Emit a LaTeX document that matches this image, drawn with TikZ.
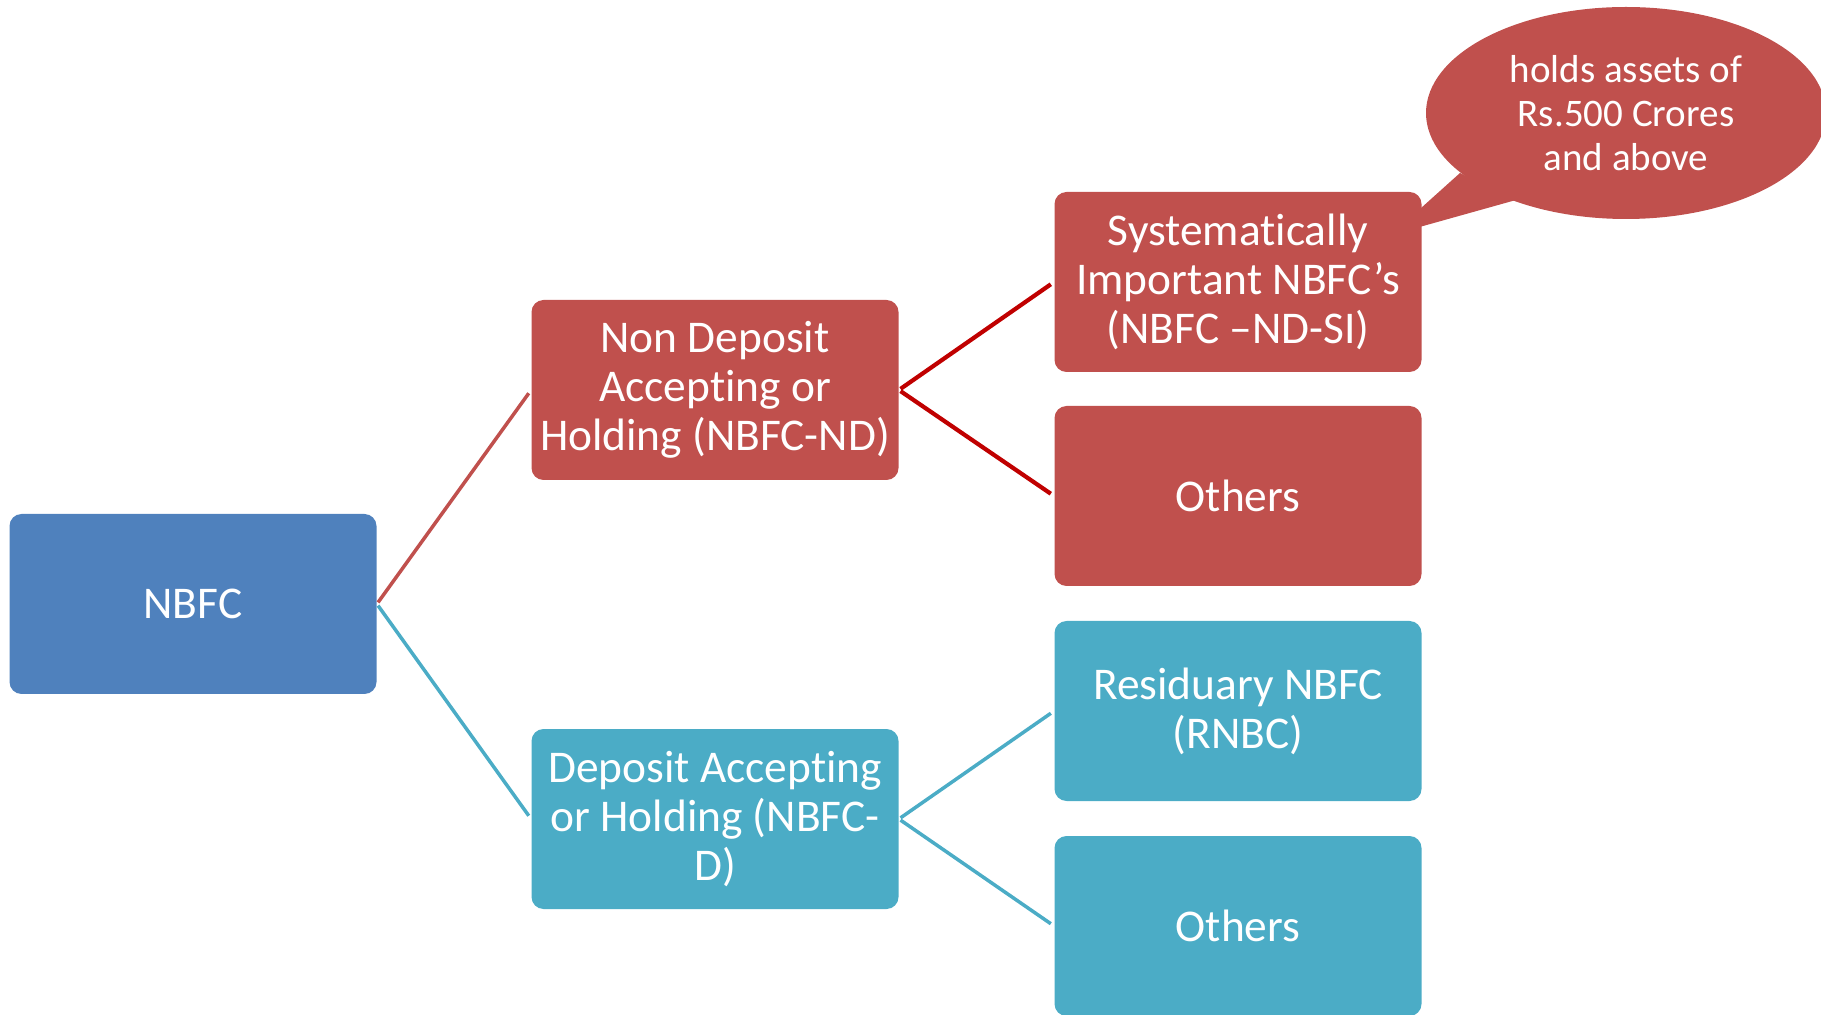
\documentclass[tikz,border=0pt]{standalone}
\usepackage{fontspec}
\setmainfont{Carlito}[Ligatures=NoCommon]
\usepackage{tikz}
\usetikzlibrary{shapes.geometric}
\definecolor{nbfcblue}{RGB}{79,129,189}
\definecolor{boxred}{RGB}{192,80,77}
\definecolor{linkred}{RGB}{192,0,0}
\definecolor{boxcyan}{RGB}{75,172,198}

\begin{document}
\begin{tikzpicture}[x=0.5pt, y=-0.5pt,
    box/.style={rounded corners=6pt, minimum width=183.5pt, minimum height=90pt,
        text width=180pt, align=flush center, inner sep=0pt, text=white,
        font=\fontsize{22.7}{24.5}\selectfont},
    link/.style={line width=1.75pt, shorten <=1pt, shorten >=2pt}
  ]
    \useasboundingbox (0,0) rectangle (1821,1015);

    % Callout pointer, drawn first so the box sits on top
    \fill[boxred] (1460,173) -- (1391,235) -- (1516,200) -- cycle;

    % Boxes
    \node[box, fill=nbfcblue] (nbfc) at (193,604) {NBFC};
    \node[box, fill=boxred] (nd) at (715,390) {Non Deposit\\Accepting or\\Holding (NBFC-ND)};
    \node[box, fill=boxcyan] (dep) at (715,819) {Deposit Accepting\\or Holding (NBFC-\\D)};
    \node[box, fill=boxred] (si) at (1238,282) {Systematically\\Important NBFC’s\\(NBFC –ND-SI)};
    \node[box, fill=boxred] (ndothers) at (1238,496) {Others};
    \node[box, fill=boxcyan] (rnbc) at (1238,711) {Residuary NBFC\\(RNBC)};
    \node[box, fill=boxcyan] (dothers) at (1238,926) {Others};

    % Speech bubble
    \node[ellipse, fill=boxred, minimum width=200pt, minimum height=106pt, inner sep=0pt,
        text=white, align=flush center, font=\fontsize{19.5}{22}\selectfont]
        (note) at (1626,113) {holds assets of\\Rs.500 Crores\\and above};

    % Links
    \draw[link, boxred] (nbfc.east) -- (nd.west);
    \draw[link, boxcyan] (nbfc.east) -- (dep.west);
    \draw[link, linkred, line width=2.1pt] (nd.east) -- (si.west);
    \draw[link, linkred, line width=2.1pt] (nd.east) -- (ndothers.west);
    \draw[link, boxcyan] (dep.east) -- (rnbc.west);
    \draw[link, boxcyan] (dep.east) -- (dothers.west);
\end{tikzpicture}
\end{document}
